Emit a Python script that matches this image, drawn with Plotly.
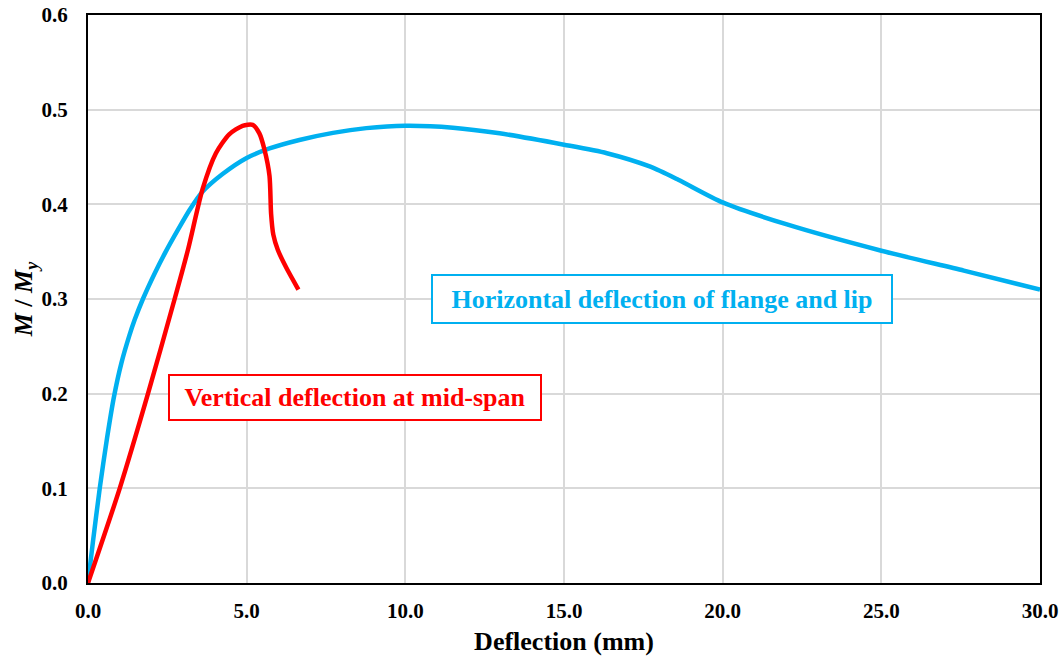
import plotly.graph_objects as go

# Horizontal deflection of flange and lip (blue)
blue_x = [0.0, 0.15, 0.37, 0.60, 0.82, 1.05, 1.30, 1.47, 1.73, 2.10, 2.45, 2.85, 3.20, 3.60, 4.24, 5.00, 5.72,
          6.66, 7.72, 8.77, 10.0, 11.5, 12.97, 15.0, 16.35, 17.7, 18.6, 20.0, 22.0, 25.0, 27.6, 30.0]
blue_y = [0.0, 0.042, 0.100, 0.153, 0.197, 0.232, 0.261, 0.278, 0.300, 0.327, 0.350, 0.374, 0.394, 0.413, 0.432, 0.449, 0.459,
          0.468, 0.4755, 0.4805, 0.483, 0.481, 0.475, 0.463, 0.454, 0.440, 0.426, 0.402, 0.379, 0.351, 0.330, 0.310]

# Vertical deflection at mid-span (red)
red_x = [0.0, 1.0, 1.89, 2.73, 3.15, 3.61, 4.03, 4.45, 4.87, 5.19, 5.40, 5.56, 5.72, 5.77, 5.84, 5.98, 6.25, 6.63]
red_y = [0.0, 0.100, 0.200, 0.300, 0.352, 0.416, 0.454, 0.474, 0.483, 0.484, 0.475, 0.458, 0.430, 0.390, 0.368, 0.352, 0.333, 0.310]

x_ticks = [0, 5, 10, 15, 20, 25, 30]
x_tick_labels = ["0.0", "5.0", "10.0", "15.0", "20.0", "25.0", "30.0"]
y_ticks = [0, 0.1, 0.2, 0.3, 0.4, 0.5, 0.6]
y_tick_labels = ["0.0", "0.1", "0.2", "0.3", "0.4", "0.5", "0.6"]

BLUE = "#00B0F0"
RED = "#FF0000"
FONT = "Liberation Serif"

fig = go.Figure()
fig.add_trace(go.Scatter(x=blue_x, y=blue_y, mode="lines",
                         line=dict(color=BLUE, width=4.5, shape="spline", smoothing=0.7),
                         showlegend=False))
fig.add_trace(go.Scatter(x=red_x, y=red_y, mode="lines",
                         line=dict(color=RED, width=4.5, shape="spline", smoothing=0.7),
                         showlegend=False))

fig.add_annotation(x=18.09, y=0.300, xref="x", yref="y", showarrow=False,
                   text="<b>Horizontal deflection of flange and lip</b>",
                   font=dict(family=FONT, size=26, color=BLUE),
                   width=442, height=30,
                   bordercolor=BLUE, borderwidth=2, borderpad=8, bgcolor="white")
fig.add_annotation(x=8.41, y=0.196, xref="x", yref="y", showarrow=False,
                   text="<b>Vertical deflection at mid-span</b>",
                   font=dict(family=FONT, size=26, color=RED),
                   width=354, height=27,
                   bordercolor=RED, borderwidth=2, borderpad=8, bgcolor="white")

fig.update_xaxes(range=[0, 30], tickvals=x_ticks, ticktext=x_tick_labels,
                 showgrid=True, gridcolor="#D9D9D9", gridwidth=1.5,
                 showline=True, linecolor="black", linewidth=2, mirror=True,
                 zeroline=False, ticks="", ticklabelstandoff=8, automargin=False,
                 tickfont=dict(family=FONT, size=21, color="black", weight="bold"),
                 title=dict(text="<b>Deflection (mm)</b>", font=dict(family=FONT, size=26, color="black"),
                            standoff=10))
fig.update_yaxes(range=[0, 0.6], tickvals=y_ticks, ticktext=y_tick_labels,
                 showgrid=True, gridcolor="#D9D9D9", gridwidth=1.5,
                 showline=True, linecolor="black", linewidth=2, mirror=True,
                 zeroline=False, ticks="", ticklabelstandoff=14, automargin=False,
                 tickfont=dict(family=FONT, size=21, color="black", weight="bold"),
                 title=dict(text="<b><i>M</i> / <i>M<sub>y</sub></i></b>",
                            font=dict(family=FONT, size=26, color="black"), standoff=0))

fig.update_layout(width=1064, height=662, margin=dict(l=88, r=24, t=15, b=79),
                  plot_bgcolor="white", paper_bgcolor="white")

fig.write_html("out.html")
